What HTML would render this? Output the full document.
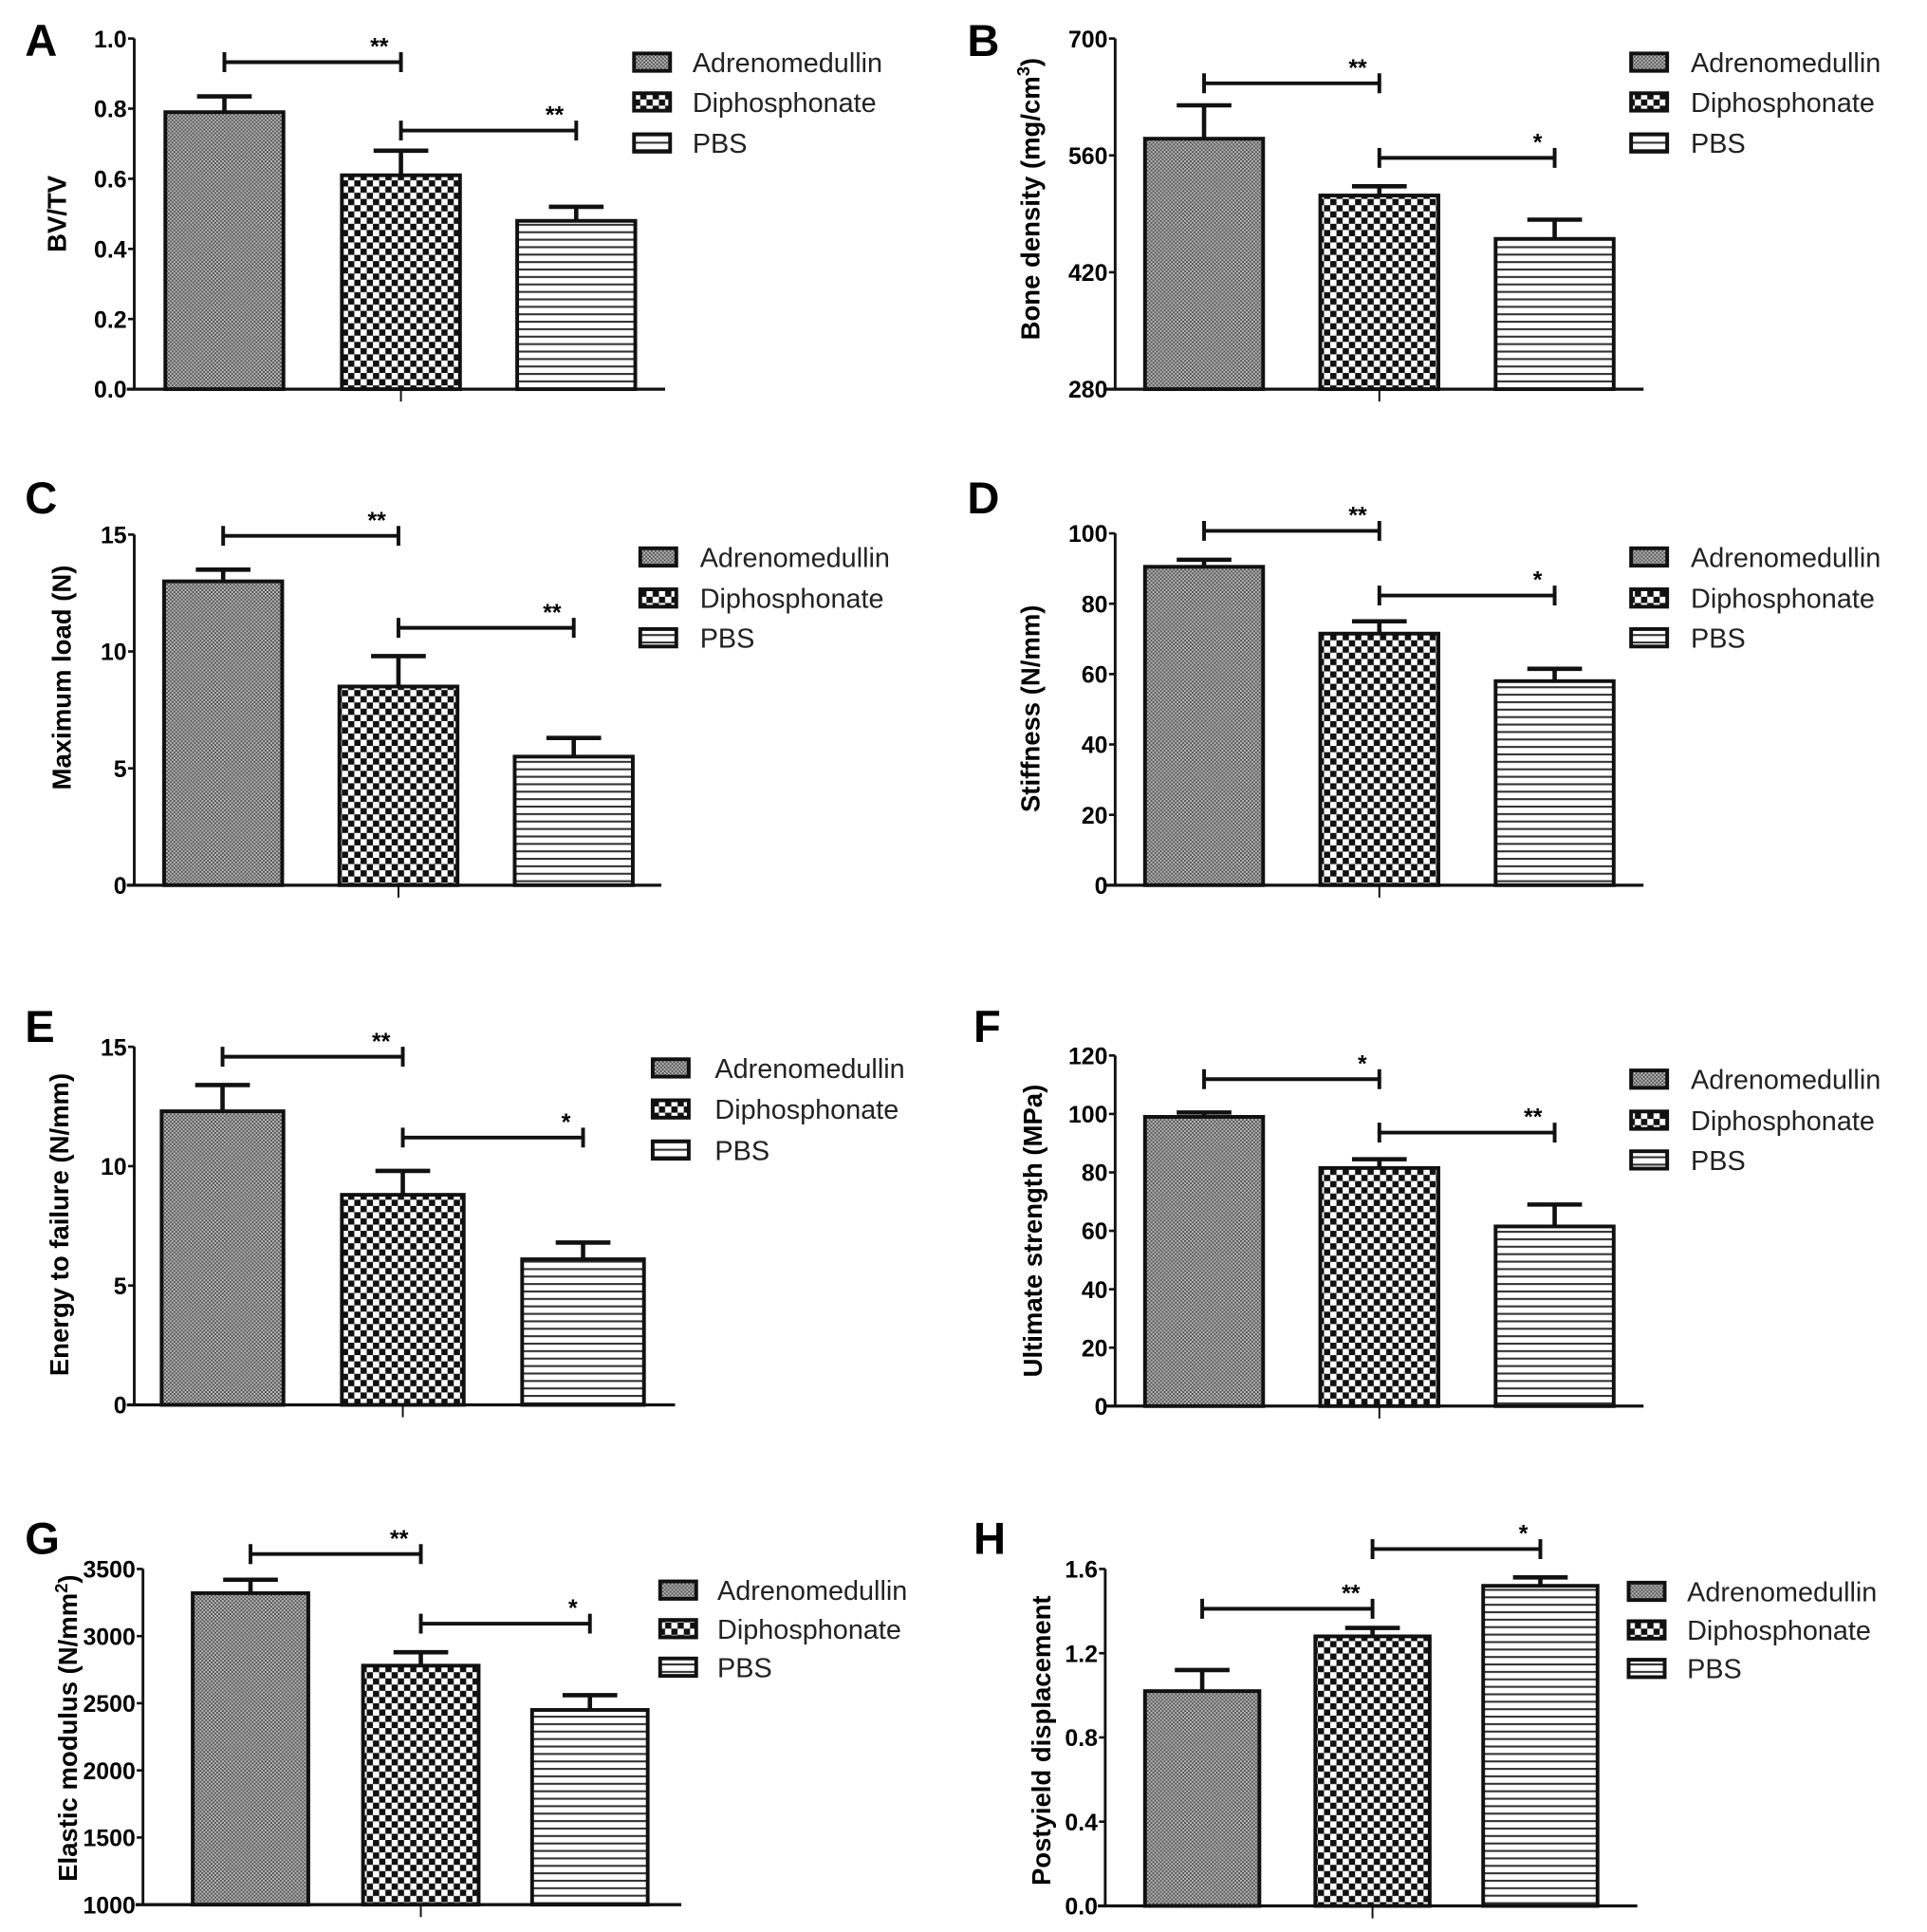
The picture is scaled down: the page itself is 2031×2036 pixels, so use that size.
<!DOCTYPE html>
<html><head><meta charset="utf-8">
<style>
html,body{margin:0;padding:0;background:#fff;}
svg{display:block;font-family:"Liberation Sans",Arial,sans-serif;}
</style></head>
<body>
<svg id="fig" width="2031" height="2036" viewBox="0 0 1550 1554" preserveAspectRatio="none" xmlns="http://www.w3.org/2000/svg">
<defs>
<pattern id="pA" patternUnits="userSpaceOnUse" width="3" height="3">
<rect width="3" height="3" fill="#b8b8b8"/><rect width="1.5" height="1.5" fill="#555"/><rect x="1.5" y="1.5" width="1.5" height="1.5" fill="#555"/>
</pattern>
<pattern id="pD" patternUnits="userSpaceOnUse" width="10" height="10">
<rect width="10" height="10" fill="#fff"/><rect width="5" height="5" fill="#111"/><rect x="5" y="5" width="5" height="5" fill="#111"/>
</pattern>
<pattern id="pP" patternUnits="userSpaceOnUse" width="6" height="6">
<rect width="6" height="6" fill="#fff"/><rect y="0" width="6" height="1.6" fill="#333"/>
</pattern>
</defs>
</svg>
<script>
const categories = ['Adrenomedullin','Diphosphonate','PBS'];
const valuesA = [0.79, 0.61, 0.48];
const errorsA = [0.045, 0.07, 0.04];
const ticksA = ['0.0','0.2','0.4','0.6','0.8','1.0'];
const sigA = ['**','**'];
const valuesB = [580, 512, 460];
const errorsB = [40, 11, 23];
const ticksB = ['280','420','560','700'];
const sigB = ['**','*'];
const valuesC = [13.0, 8.5, 5.5];
const errorsC = [0.5, 1.3, 0.8];
const ticksC = ['0','5','10','15'];
const sigC = ['**','**'];
const valuesD = [90.5, 71.5, 58];
const errorsD = [2, 3.5, 3.5];
const ticksD = ['0','20','40','60','80','100'];
const sigD = ['**','*'];
const valuesE = [12.3, 8.8, 6.1];
const errorsE = [1.1, 1.0, 0.7];
const ticksE = ['0','5','10','15'];
const sigE = ['**','*'];
const valuesF = [99, 81.5, 61.5];
const errorsF = [1.5, 3, 7.5];
const ticksF = ['0','20','40','60','80','100','120'];
const sigF = ['*','**'];
const valuesG = [3320, 2780, 2450];
const errorsG = [100, 100, 110];
const ticksG = ['1000','1500','2000','2500','3000','3500'];
const sigG = ['**','*'];
const valuesH = [1.02, 1.28, 1.52];
const errorsH = [0.1, 0.04, 0.04];
const ticksH = ['0.0','0.4','0.8','1.2','1.6'];
const sigH = ['**','*'];

const NS = 'http://www.w3.org/2000/svg';
const svg = document.getElementById('fig');
const fills = ['url(#pA)','url(#pD)','url(#pP)'];
function mk(tag, attrs, parent){ const e=document.createElementNS(NS,tag); for(const k in attrs) e.setAttribute(k,attrs[k]); (parent||svg).appendChild(e); return e; }

const panels = [
 {id:'a',letter:'A',lx:20,ly:45,values:valuesA,errors:errorsA,ticks:ticksA,sig:sigA,ylabel:'BV/TV',ax:108,yT:31,yB:313,x0:102,x1:535,bars:[133,275,416],bw:95,leg:{bx:510,tx:557,y:[50,82,115]},yl:{x:53,y:172},br:[[50,0,1],[105,1,2]]},
 {id:'b',letter:'B',lx:778,ly:45,values:valuesB,errors:errorsB,ticks:ticksB,sig:sigB,ylabel:'Bone density (mg/cm',sup:'3',ylabelEnd:')',ax:897,yT:31,yB:313,x0:890,x1:1322,bars:[921,1062,1203],bw:95,leg:{bx:1312,tx:1360,y:[50,82,115]},yl:{x:836,y:160},br:[[67,0,1],[127,1,2]]},
 {id:'c',letter:'C',lx:20,ly:413,values:valuesC,errors:errorsC,ticks:ticksC,sig:sigC,ylabel:'Maximum load (N)',ax:108,yT:430,yB:712,x0:102,x1:532,bars:[132,273,414],bw:95,leg:{bx:515,tx:563,y:[448,481,513]},yl:{x:57,y:545},br:[[431,0,1],[505,1,2]]},
 {id:'d',letter:'D',lx:778,ly:413,values:valuesD,errors:errorsD,ticks:ticksD,sig:sigD,ylabel:'Stiffness (N/mm)',ax:897,yT:429,yB:712,x0:890,x1:1322,bars:[921,1062,1203],bw:95,leg:{bx:1312,tx:1360,y:[448,481,513]},yl:{x:836,y:570},br:[[427,0,1],[479,1,2]]},
 {id:'e',letter:'E',lx:20,ly:838,values:valuesE,errors:errorsE,ticks:ticksE,sig:sigE,ylabel:'Energy to failure (N/mm)',ax:108,yT:842,yB:1130,x0:102,x1:543,bars:[130,275,420],bw:98,leg:{bx:525,tx:575,y:[859,892,925]},yl:{x:55,y:985},br:[[850,0,1],[915,1,2]]},
 {id:'f',letter:'F',lx:783,ly:838,values:valuesF,errors:errorsF,ticks:ticksF,sig:sigF,ylabel:'Ultimate strength (MPa)',ax:897,yT:849,yB:1131,x0:890,x1:1322,bars:[921,1062,1203],bw:95,leg:{bx:1312,tx:1360,y:[868,901,933]},yl:{x:838,y:990},br:[[868,0,1],[911,1,2]]},
 {id:'g',letter:'G',lx:20,ly:1250,values:valuesG,errors:errorsG,ticks:ticksG,sig:sigG,ylabel:'Elastic modulus (N/mm',sup:'2',ylabelEnd:')',ax:115,yT:1262,yB:1532,x0:109,x1:548,bars:[155,292,428],bw:93,leg:{bx:531,tx:577,y:[1279,1310,1341]},yl:{x:62,y:1390},br:[[1250,0,1],[1306,1,2]]},
 {id:'h',letter:'H',lx:783,ly:1250,values:valuesH,errors:errorsH,ticks:ticksH,sig:sigH,ylabel:'Postyield displacement',ax:889,yT:1262,yB:1533,x0:883,x1:1317,bars:[921,1058,1193],bw:92,leg:{bx:1310,tx:1357,y:[1280,1311,1342]},yl:{x:845,y:1400},br:[[1294,0,1],[1246,1,2]]}
];

panels.forEach(p=>{
 const g = mk('g',{});
 
 
 const tv = p.ticks.map(Number);
 const vmin = tv[0], vmax = tv[tv.length-1];
 const y = v => p.yB - (v - vmin)/(vmax - vmin)*(p.yB - p.yT);
 const L = mk('text',{x:p.lx,y:p.ly,'font-size':36,'font-weight':'bold'},g); L.textContent=p.letter;
 
 
 p.values.forEach((v,i)=>{
  const bx = p.bars[i], cx = bx + p.bw/2, top = y(v);
  const r = mk('rect',{x:bx,y:top,width:p.bw,height:p.yB-top,fill:fills[i],stroke:'#111','stroke-width':3},g);
  
  
  const et = y(v + p.errors[i]);
  const e = mk('path',{d:`M${cx},${top} V${et} M${cx-22},${et} H${cx+22}`,stroke:'#111','stroke-width':3.5,fill:'none'},g);
  
  
 });
 const ya = mk('path',{d:`M${p.ax},${p.yT} V${p.yB}`,stroke:'#111','stroke-width':2.2,fill:'none'},g);
 
 
 const xa = mk('path',{d:`M${p.x0},${p.yB} H${p.x1}`,stroke:'#111','stroke-width':2.5,fill:'none'},g);
 
 
 const mid = p.bars[1]+p.bw/2;
 mk('path',{d:`M${mid},${p.yB} V${p.yB+10}`,stroke:'#111','stroke-width':1.5},g);
 p.ticks.forEach((t,i)=>{
  const ty = y(tv[i]);
  mk('path',{d:`M${p.ax-5},${ty} H${p.ax}`,stroke:'#111','stroke-width':2},g);
  const tt = mk('text',{x:p.ax-6,y:ty+7,'font-size':19,'font-weight':'bold','text-anchor':'end'},g);
  tt.textContent = t;
  
  
 });
 const yl = mk('text',{x:0,y:0,'font-size':21,'font-weight':'bold','text-anchor':'middle',transform:`translate(${p.yl.x},${p.yl.y}) rotate(-90)`},g);
 
 
 if(p.sup){
  yl.appendChild(document.createTextNode(p.ylabel));
  const s = document.createElementNS(NS,'tspan'); s.setAttribute('dy','-8'); s.setAttribute('font-size','14'); s.textContent=p.sup; yl.appendChild(s);
  const e2 = document.createElementNS(NS,'tspan'); e2.setAttribute('dy','8'); e2.textContent=p.ylabelEnd; yl.appendChild(e2);
 } else yl.textContent = p.ylabel;
 p.br.forEach((b,k)=>{
  const xa1 = p.bars[b[1]]+p.bw/2, xa2 = p.bars[b[2]]+p.bw/2, by=b[0];
  const bp = mk('path',{d:`M${xa1},${by-8} V${by+8} M${xa1},${by} H${xa2} M${xa2},${by-8} V${by+8}`,stroke:'#111','stroke-width':3,fill:'none'},g);
  
  
  const st = mk('text',{x:xa2-10,y:by-6,'font-size':19,'font-weight':'bold','text-anchor':'end'},g);
  st.textContent = p.sig[k];
  
  
 });
 categories.forEach((c,i)=>{
  const ly = p.leg.y[i];
  const lb = mk('rect',{x:p.leg.bx,y:ly-7,width:29,height:14,fill:fills[i],stroke:'#111','stroke-width':3},g);
  
  
  const lt = mk('text',{x:p.leg.tx,y:ly+8,'font-size':22,fill:'#222'},g);
  lt.textContent = c;
  
  
 });
});
</script>
</body></html>
